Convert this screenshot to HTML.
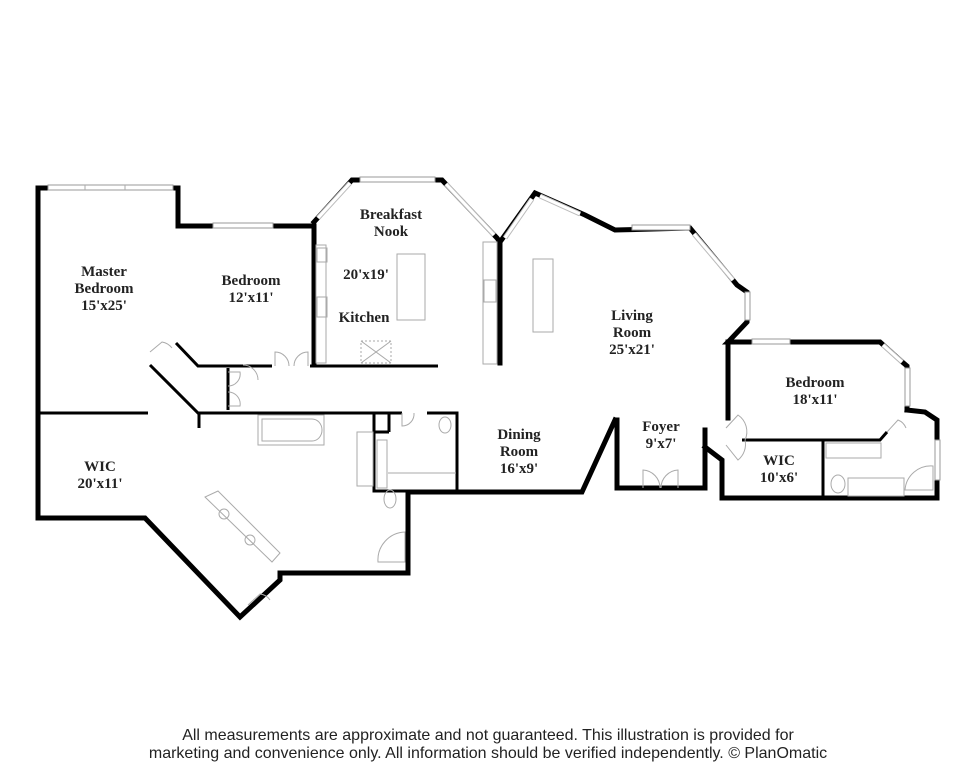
<!DOCTYPE html>
<html><head><meta charset="utf-8"><style>
html,body{margin:0;padding:0;background:#fff;width:976px;height:768px;overflow:hidden}
svg{display:block}
.w{fill:none;stroke:#000;stroke-width:5;stroke-linejoin:miter;stroke-linecap:square}
.t{fill:none;stroke:#000;stroke-width:3}
.win{fill:#fff;stroke:#999;stroke-width:1}
.g{fill:none;stroke:#aaa;stroke-width:1}
.l{font-family:"Liberation Serif",serif;font-weight:bold;font-size:15px;fill:#222;text-anchor:middle}
.f{font-family:"Liberation Sans",sans-serif;font-size:16px;fill:#222;text-anchor:middle}
</style></head><body>
<svg width="976" height="768" viewBox="0 0 976 768">
<polyline class="w" points="178,222 178,188 38,188 38,518 145,518 240,617 280,580 280,573 408,573 408,492 582,492 615,420"/>
<polyline class="w" points="617,420 617,488 705,488 705,430"/>
<polyline class="w" points="705,447 722,460 722,498 937,498 937,420 925,412 907,410"/>
<polyline class="w" points="178,226 314,226 314,365"/>
<polyline class="w" points="314,222 352,180 442,180 497,238 500,242 500,363"/>
<polyline class="w" points="500,242 535,193 585,215 615,230 690,228 737,285 747,292 747,322 730,340 728,342 880,342 900,360 907,366 907,410"/>
<line class="w" x1="728" y1="342" x2="728" y2="418"/>
<rect class="win" x="48" y="185" width="125" height="5"/>
<line class="g" x1="85" y1="185" x2="85" y2="190"/><line class="g" x1="125" y1="185" x2="125" y2="190"/>
<rect class="win" x="213" y="223" width="60" height="5"/>
<line x1="318" y1="218" x2="350" y2="183" stroke="#bbb" stroke-width="5"/>
<line x1="318" y1="218" x2="350" y2="183" stroke="#fff" stroke-width="3"/>
<rect class="win" x="360" y="177" width="75" height="5"/>
<line x1="446" y1="184" x2="494" y2="235" stroke="#bbb" stroke-width="5"/><line x1="446" y1="184" x2="494" y2="235" stroke="#fff" stroke-width="3"/>
<line x1="505" y1="238" x2="532" y2="199" stroke="#bbb" stroke-width="5"/><line x1="505" y1="238" x2="532" y2="199" stroke="#fff" stroke-width="3"/>
<line x1="540" y1="196" x2="580" y2="214" stroke="#bbb" stroke-width="5"/><line x1="540" y1="196" x2="580" y2="214" stroke="#fff" stroke-width="3"/>
<rect class="win" x="632" y="225" width="58" height="5"/>
<line x1="694" y1="234" x2="733" y2="280" stroke="#bbb" stroke-width="5"/><line x1="694" y1="234" x2="733" y2="280" stroke="#fff" stroke-width="3"/>
<rect class="win" x="745" y="292" width="5" height="28"/>
<rect class="win" x="752" y="339" width="38" height="5"/>
<line x1="883" y1="345" x2="902" y2="362" stroke="#bbb" stroke-width="5"/><line x1="883" y1="345" x2="902" y2="362" stroke="#fff" stroke-width="3"/>
<rect class="win" x="905" y="368" width="5" height="38"/>
<rect class="win" x="935" y="440" width="5" height="40"/>
<line class="t" x1="38" y1="413" x2="148" y2="413"/>
<polyline class="t" points="150,365 198,413 402,413"/>
<line class="t" x1="199" y1="413" x2="199" y2="428"/>
<polyline class="t" points="176,343 198,366 272,366"/>
<line class="t" x1="310" y1="366" x2="438" y2="366"/>
<line class="t" x1="228" y1="368" x2="228" y2="410"/>
<polyline class="t" points="374,413 374,491 470,491"/>
<line class="t" x1="374" y1="432" x2="389" y2="432"/><line class="t" x1="389" y1="413" x2="389" y2="432"/>
<polyline class="t" points="427,413 457,413 457,490"/>
<polyline class="t" points="742,440 880,440 887,432"/>
<line class="t" x1="823" y1="440" x2="823" y2="498"/>
<rect class="g" x="316" y="245" width="10" height="118"/>
<rect class="g" x="317" y="248" width="10" height="14"/>
<rect class="g" x="317" y="297" width="10" height="20"/>
<rect class="g" x="397" y="254" width="28" height="66"/>
<rect class="g" x="361" y="341" width="30" height="22" style="stroke-dasharray:2 2"/>
<line class="g" x1="361" y1="341" x2="391" y2="363"/><line class="g" x1="391" y1="341" x2="361" y2="363"/>
<rect class="g" x="483" y="242" width="14" height="122"/>
<rect class="g" x="484" y="280" width="12" height="22"/>
<rect class="g" x="533" y="259" width="20" height="73"/>
<rect class="g" x="258" y="415" width="66" height="30"/>
<path class="g" d="M262,419 H312 A10,11 0 0 1 312,441 H262 Z"/>
<rect class="g" x="357" y="432" width="16" height="54"/>
<rect class="g" x="377" y="440" width="10" height="48"/>
<line class="g" x1="388" y1="473" x2="456" y2="473"/>
<polygon class="g" points="218,491 280,553 272,562 205,497"/>
<circle class="g" cx="224" cy="514" r="5"/><circle class="g" cx="250" cy="540" r="5"/>
<path class="g" d="M405,562 V532 A28,28 0 0 0 378,562 Z"/>
<path class="g" d="M933,490 V466 A26,26 0 0 0 905,490 Z"/>
<rect class="g" x="848" y="478" width="56" height="18"/>
<ellipse class="g" cx="838" cy="484" rx="7" ry="9"/>
<ellipse class="g" cx="390" cy="499" rx="6" ry="9"/>
<ellipse class="g" cx="445" cy="425" rx="6" ry="8"/>
<rect class="g" x="826" y="443" width="55" height="15"/>
<path class="g" d="M243,365 A15,15 0 0 1 258,380"/>
<path class="g" d="M275,366 V352 A14,14 0 0 1 289,366 M308,366 V352 A14,14 0 0 0 294,366"/>
<path class="g" d="M228,372 H240 A12,12 0 0 1 228,386 M228,406 H240 A12,12 0 0 0 228,392"/>
<path class="g" d="M150,352 L162,342 A16,16 0 0 1 172,348"/>
<path class="g" d="M402,413 V426 A12,12 0 0 0 414,413"/>
<path class="g" d="M643,488 V470 A18,18 0 0 1 660,488 M678,488 V470 A18,18 0 0 0 661,488"/>
<path class="g" d="M726,428 L738,415 A20,20 0 0 1 745,440 M726,445 L738,460 A20,20 0 0 0 745,440"/>
<path class="g" d="M887,432 L898,420 A14,14 0 0 1 906,428"/>
<path class="g" d="M248,605 L260,594 A14,14 0 0 1 270,600"/>
<text class="l" x="104" y="276">Master</text>
<text class="l" x="104" y="293">Bedroom</text>
<text class="l" x="104" y="310">15'x25'</text>
<text class="l" x="251" y="285">Bedroom</text>
<text class="l" x="251" y="302">12'x11'</text>
<text class="l" x="391" y="219">Breakfast</text>
<text class="l" x="391" y="236">Nook</text>
<text class="l" x="366" y="279">20'x19'</text>
<text class="l" x="364" y="322">Kitchen</text>
<text class="l" x="632" y="320">Living</text>
<text class="l" x="632" y="337">Room</text>
<text class="l" x="632" y="354">25'x21'</text>
<text class="l" x="519" y="439">Dining</text>
<text class="l" x="519" y="456">Room</text>
<text class="l" x="519" y="473">16'x9'</text>
<text class="l" x="661" y="431">Foyer</text>
<text class="l" x="661" y="448">9'x7'</text>
<text class="l" x="815" y="387">Bedroom</text>
<text class="l" x="815" y="404">18'x11'</text>
<text class="l" x="100" y="471">WIC</text>
<text class="l" x="100" y="488">20'x11'</text>
<text class="l" x="779" y="465">WIC</text>
<text class="l" x="779" y="482">10'x6'</text>
<text class="f" x="488" y="740">All measurements are approximate and not guaranteed. This illustration is provided for</text>
<text class="f" x="488" y="758">marketing and convenience only. All information should be verified independently. © PlanOmatic</text>
</svg>
</body></html>
